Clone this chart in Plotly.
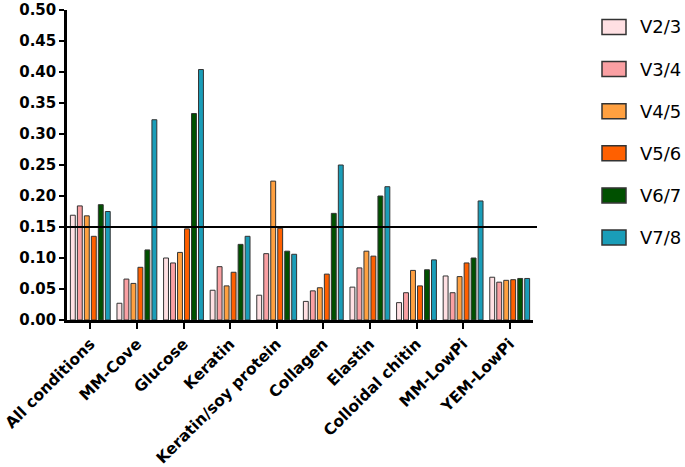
import plotly.graph_objects as go

categories = ["All conditions", "MM-Cove", "Glucose", "Keratin", "Keratin/soy protein",
              "Collagen", "Elastin", "Colloidal chitin", "MM-LowPi", "YEM-LowPi"]
series_names = ["V2/3", "V3/4", "V4/5", "V5/6", "V6/7", "V7/8"]

v23 = [0.169, 0.027, 0.100, 0.048, 0.040, 0.030, 0.053, 0.028, 0.071, 0.069]
v34 = [0.184, 0.066, 0.092, 0.086, 0.107, 0.047, 0.084, 0.044, 0.044, 0.061]
v45 = [0.168, 0.059, 0.109, 0.055, 0.224, 0.052, 0.111, 0.080, 0.070, 0.064]
v56 = [0.135, 0.085, 0.147, 0.077, 0.148, 0.074, 0.103, 0.055, 0.092, 0.065]
v67 = [0.186, 0.113, 0.333, 0.122, 0.111, 0.172, 0.200, 0.081, 0.100, 0.067]
v78 = [0.175, 0.323, 0.404, 0.135, 0.106, 0.250, 0.215, 0.097, 0.192, 0.067]
series_values = [v23, v34, v45, v56, v67, v78]

threshold = 0.15
y_ticks = [0.00, 0.05, 0.10, 0.15, 0.20, 0.25, 0.30, 0.35, 0.40, 0.45, 0.50]

colors = ["#FFE0E3", "#FAA0A3", "#FFA040", "#FF6000", "#005000", "#1A9DB8"]

W, H = 685, 467
L, R, T, B = 67, 152, 10, 147
PW, PH = W - L - R, H - T - B


def px_x(px):
    return (px - L) / PW


def px_y(py):
    return (H - B - py) / PH


fig = go.Figure()
for name, vals, col in zip(series_names, series_values, colors):
    fig.add_trace(go.Bar(
        x=categories, y=vals, name=name,
        marker=dict(color=col, line=dict(color="#333333", width=1)),
        showlegend=False,
    ))

shapes = [dict(type="line", xref="paper", yref="y", x0=0, x1=px_x(537),
               y0=threshold, y1=threshold, line=dict(color="black", width=2))]
annotations = []
for i, (name, col) in enumerate(zip(series_names, colors)):
    cy = 27 + i * 42.1
    shapes.append(dict(type="rect", xref="paper", yref="paper",
                       x0=px_x(602), x1=px_x(626), y0=px_y(cy - 7.5), y1=px_y(cy + 7.5),
                       fillcolor=col, line=dict(color="#333333", width=1.5)))
    annotations.append(dict(xref="paper", yref="paper", x=px_x(638), y=px_y(cy),
                            text=name, showarrow=False, xanchor="left", yanchor="middle",
                            font=dict(family="DejaVu Sans", size=18, color="black")))

fig.update_layout(
    width=W, height=H,
    margin=dict(l=L, r=R, t=T, b=B, pad=0, autoexpand=False),
    paper_bgcolor="white", plot_bgcolor="white",
    barmode="group", bargap=0.1, bargroupgap=0.3,
    shapes=shapes, annotations=annotations,
    font=dict(family="DejaVu Sans", color="black"),
)
fig.update_xaxes(
    range=[-0.5, 9.5], showline=True, linecolor="black", linewidth=2.5,
    ticks="outside", ticklen=6, tickwidth=2, tickcolor="black",
    tickangle=-45, tickfont=dict(family="DejaVu Sans", size=15.5, color="black", weight="bold"),
    showgrid=False, zeroline=False, automargin=False,
)
fig.update_yaxes(
    range=[0, 0.5], tickvals=y_ticks, tickformat=".2f",
    showline=True, linecolor="black", linewidth=2.5,
    ticks="outside", ticklen=5, tickwidth=2, tickcolor="black",
    tickfont=dict(family="DejaVu Sans", size=15, color="black", weight="bold"),
    showgrid=False, zeroline=False, automargin=False,
)

fig.write_html(
    "out.html",
    config={"displayModeBar": False},
    post_script="document.body.style.margin='0';document.body.style.overflow='hidden';",
)
